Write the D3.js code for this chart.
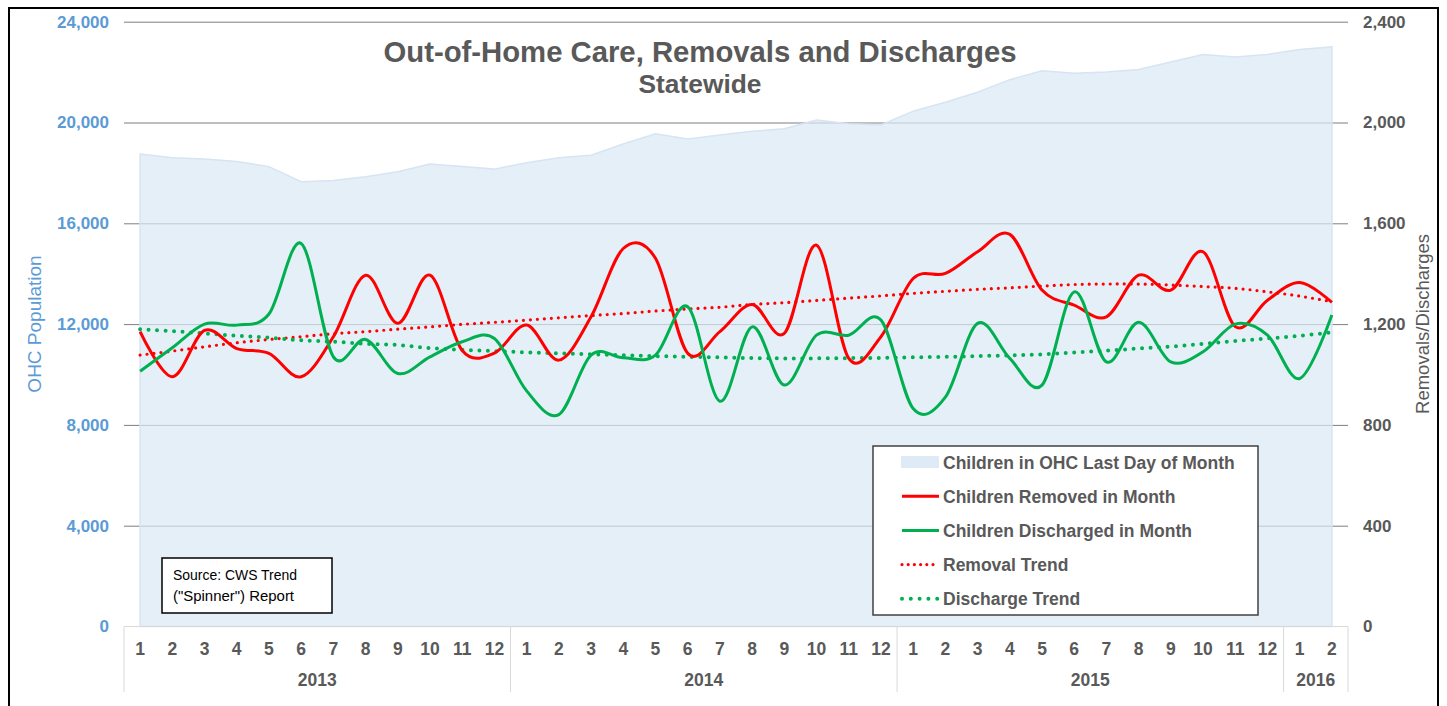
<!DOCTYPE html>
<html lang="en">
<head>
    <meta charset="utf-8">
    <title>Out-of-Home Care, Removals and Discharges</title>
    <script src="https://d3js.org/d3.v7.min.js"></script>
    <style>
        body { margin: 0; background: #fff; }
        text { font-family: "Liberation Sans", Arial, sans-serif; }
    </style>
</head>

<body>
    <script type="text/javascript">
        // months grouped by year
        var monthLabels = ["1","2","3","4","5","6","7","8","9","10","11","12",
                           "1","2","3","4","5","6","7","8","9","10","11","12",
                           "1","2","3","4","5","6","7","8","9","10","11","12",
                           "1","2"];
        var yearLabels = ["2013", "2014", "2015", "2016"];
        var yearCounts = [12, 12, 12, 2];

        // children in OHC last day of month (left axis)
        var ohc = [18750, 18600, 18550, 18450, 18250, 17650, 17700, 17850, 18050, 18350, 18250, 18150,
                   18400, 18600, 18700, 19150, 19550, 19350, 19500, 19650, 19750, 20100, 19950, 19900,
                   20450, 20800, 21200, 21700, 22050, 21950, 22000, 22100, 22400, 22700, 22600, 22700,
                   22900, 23000];
        // right axis series
        var removed = [1170, 991, 1175, 1103, 1084, 991, 1150, 1394, 1203, 1394, 1095, 1085,
                       1196, 1057, 1229, 1500, 1461, 1084, 1170, 1278, 1163, 1513, 1064, 1150,
                       1381, 1401, 1487, 1556, 1335, 1275, 1229, 1394, 1335, 1487, 1190, 1295,
                       1365, 1286];
        var discharged = [1013, 1106, 1200, 1196, 1240, 1520, 1070, 1139, 1004, 1070, 1130, 1143,
                          935, 841, 1077, 1066, 1077, 1269, 894, 1189, 958, 1156, 1156, 1216,
                          865, 910, 1203, 1064, 958, 1328, 1050, 1207, 1050, 1090, 1200, 1156,
                          984, 1236];
        var removalTrend = [1077, 1093, 1110, 1126, 1139, 1150, 1162, 1170, 1180, 1189, 1199, 1207,
                            1216, 1225, 1234, 1242, 1252, 1260, 1267, 1278, 1285, 1294, 1303, 1312,
                            1322, 1330, 1338, 1344, 1351, 1357, 1359, 1359, 1355, 1349, 1342, 1328,
                            1311, 1289];
        var dischargeTrend = [1180, 1172, 1163, 1154, 1146, 1136, 1130, 1122, 1117, 1105, 1098, 1093,
                              1088, 1084, 1080, 1076, 1073, 1070, 1068, 1065, 1064, 1064, 1065, 1066,
                              1068, 1070, 1073, 1076, 1080, 1087, 1095, 1103, 1111, 1122, 1133, 1143,
                              1154, 1167];

        var leftTicks = [0, 4000, 8000, 12000, 16000, 20000, 24000];
        var rightTicks = [0, 400, 800, 1200, 1600, 2000, 2400];

        var w = 1447, h = 706;
        var plotL = 124, plotR = 1348, plotT = 21.7, plotB = 626.5;

        var svg = d3.select("body").append("svg")
            .attr("width", w)
            .attr("height", h);

        var idx = d3.range(monthLabels.length);
        var x = d3.scaleBand().domain(idx).range([plotL, plotR]);
        var cx = function(i) { return x(i) + x.bandwidth() / 2; };
        var yL = d3.scaleLinear().domain([0, 24000]).range([plotB, plotT]);
        var yR = d3.scaleLinear().domain([0, 2400]).range([plotB, plotT]);

        // outer frame
        svg.append("rect")
            .attr("x", 9).attr("y", 8).attr("width", 1429).attr("height", 720)
            .attr("fill", "none").attr("stroke", "#000").attr("stroke-width", 2);

        // gridlines
        var grid = svg.append("g")
            .attr("transform", "translate(" + plotL + ",0)")
            .call(d3.axisLeft(yL).tickValues(leftTicks.slice(1)).tickSize(-(plotR - plotL)).tickFormat(""));
        grid.select(".domain").remove();
        grid.selectAll("line").attr("stroke", "#7f7f7f");

        // OHC area
        var area = d3.area()
            .x(function(d, i) { return cx(i); })
            .y0(plotB)
            .y1(function(d) { return yL(d); });
        svg.append("path")
            .datum(ohc)
            .attr("d", area)
            .attr("fill", "rgb(218,232,245)")
            .attr("fill-opacity", 0.7)
            .attr("stroke", "rgb(214,228,243)")
            .attr("stroke-width", 1.5);

        // category axis lines
        svg.append("line")
            .attr("x1", plotL).attr("x2", plotR).attr("y1", plotB).attr("y2", plotB)
            .attr("stroke", "#d9d9d9");
        var bounds = [0];
        yearCounts.forEach(function(n) { bounds.push(bounds[bounds.length - 1] + n); });
        svg.selectAll("line.sep")
            .data(bounds)
            .enter().append("line")
            .attr("class", "sep")
            .attr("x1", function(b) { return plotL + b * x.step(); })
            .attr("x2", function(b) { return plotL + b * x.step(); })
            .attr("y1", plotB).attr("y2", 692)
            .attr("stroke", "#d9d9d9");

        svg.selectAll("text.month")
            .data(monthLabels)
            .enter().append("text")
            .attr("class", "month")
            .attr("x", function(d, i) { return cx(i); })
            .attr("y", 655)
            .attr("text-anchor", "middle")
            .attr("font-size", 17.5).attr("font-weight", "bold").attr("fill", "#595959")
            .text(function(d) { return d; });

        svg.selectAll("text.year")
            .data(yearLabels)
            .enter().append("text")
            .attr("class", "year")
            .attr("x", function(d, i) { return plotL + (bounds[i] + bounds[i + 1]) / 2 * x.step(); })
            .attr("y", 686)
            .attr("text-anchor", "middle")
            .attr("font-size", 17.5).attr("font-weight", "bold").attr("fill", "#595959")
            .text(function(d) { return d; });

        // left axis labels
        var axL = svg.append("g")
            .attr("transform", "translate(" + (plotL - 15) + ",0)")
            .call(d3.axisLeft(yL).tickValues(leftTicks).tickSize(0).tickPadding(0).tickFormat(d3.format(",")));
        axL.select(".domain").remove();
        axL.selectAll("text")
            .attr("font-family", "Liberation Sans, Arial, sans-serif")
            .attr("font-size", 17).attr("font-weight", "bold").attr("fill", "#5b9bd5");

        // right axis labels
        var axR = svg.append("g")
            .attr("transform", "translate(" + (plotR + 15) + ",0)")
            .call(d3.axisRight(yR).tickValues(rightTicks).tickSize(0).tickPadding(0).tickFormat(d3.format(",")));
        axR.select(".domain").remove();
        axR.selectAll("text")
            .attr("font-family", "Liberation Sans, Arial, sans-serif")
            .attr("font-size", 17).attr("font-weight", "bold").attr("fill", "#595959");

        // axis titles
        svg.append("text")
            .attr("transform", "translate(41,324) rotate(-90)")
            .attr("text-anchor", "middle")
            .attr("font-size", 19).attr("fill", "#5b9bd5")
            .text("OHC Population");
        svg.append("text")
            .attr("transform", "translate(1429,324) rotate(-90)")
            .attr("text-anchor", "middle")
            .attr("font-size", 18.5).attr("fill", "#595959")
            .text("Removals/Discharges");

        // lines
        var line = d3.line()
            .x(function(d, i) { return cx(i); })
            .y(function(d) { return yR(d); })
            .curve(d3.curveCatmullRom.alpha(0));

        svg.append("path").datum(removalTrend).attr("d", line)
            .attr("fill", "none").attr("stroke", "#ff0000").attr("stroke-width", 3.2)
            .attr("stroke-linecap", "round").attr("stroke-dasharray", "0 7");
        svg.append("path").datum(dischargeTrend).attr("d", line)
            .attr("fill", "none").attr("stroke", "#00b050").attr("stroke-width", 4)
            .attr("stroke-linecap", "round").attr("stroke-dasharray", "0 8.5");
        svg.append("path").datum(removed).attr("d", line)
            .attr("fill", "none").attr("stroke", "#ff0000").attr("stroke-width", 3);
        svg.append("path").datum(discharged).attr("d", line)
            .attr("fill", "none").attr("stroke", "#00b050").attr("stroke-width", 3);

        // title
        svg.append("text")
            .attr("x", 700).attr("y", 62)
            .attr("text-anchor", "middle")
            .attr("font-size", 30).attr("font-weight", "bold").attr("fill", "#595959")
            .attr("textLength", 633).attr("lengthAdjust", "spacingAndGlyphs")
            .text("Out-of-Home Care, Removals and Discharges");
        svg.append("text")
            .attr("x", 700).attr("y", 93)
            .attr("text-anchor", "middle")
            .attr("font-size", 25).attr("font-weight", "bold").attr("fill", "#595959")
            .attr("textLength", 123).attr("lengthAdjust", "spacingAndGlyphs")
            .text("Statewide");

        // legend
        var legendItems = ["Children in OHC Last Day of Month", "Children Removed in Month",
                           "Children Discharged in Month", "Removal Trend", "Discharge Trend"];
        var lg = svg.append("g");
        lg.append("rect")
            .attr("x", 873).attr("y", 446).attr("width", 385).attr("height", 169)
            .attr("fill", "#fff").attr("stroke", "#404040").attr("stroke-width", 1.5);
        var rows = lg.selectAll("g.row")
            .data(legendItems)
            .enter().append("g")
            .attr("class", "row")
            .attr("transform", function(d, i) { return "translate(901," + (462 + i * 34.2) + ")"; });
        rows.append("text")
            .attr("x", 42).attr("y", 6.5)
            .attr("font-size", 17.5).attr("font-weight", "bold").attr("fill", "#595959")
            .text(function(d) { return d; });
        rows.filter(function(d, i) { return i === 0; }).append("rect")
            .attr("x", 0).attr("y", -6).attr("width", 38).attr("height", 12)
            .attr("fill", "rgb(222,235,247)");
        rows.filter(function(d, i) { return i > 0; }).append("line")
            .attr("x1", 1).attr("x2", 38).attr("y1", 0).attr("y2", 0)
            .attr("stroke", function(d, i) { return i % 2 === 0 ? "#ff0000" : "#00b050"; })
            .attr("stroke-width", function(d, i) { return i < 2 ? 3 : (i === 2 ? 3.2 : 4); })
            .attr("stroke-linecap", function(d, i) { return i < 2 ? "butt" : "round"; })
            .attr("stroke-dasharray", function(d, i) { return i < 2 ? null : (i === 2 ? "0 6.2" : "0 8.8"); });

        // source note
        svg.append("rect")
            .attr("x", 162).attr("y", 558).attr("width", 170).attr("height", 55)
            .attr("fill", "#fff").attr("stroke", "#000").attr("stroke-width", 1.5);
        svg.append("text")
            .attr("x", 173).attr("y", 580)
            .attr("font-family", "Lato, sans-serif").attr("font-size", 15).attr("fill", "#000")
            .attr("textLength", 124).attr("lengthAdjust", "spacingAndGlyphs")
            .text("Source: CWS Trend");
        svg.append("text")
            .attr("x", 173).attr("y", 601)
            .attr("font-family", "Lato, sans-serif").attr("font-size", 15).attr("fill", "#000")
            .attr("textLength", 121).attr("lengthAdjust", "spacingAndGlyphs")
            .text("(\"Spinner\") Report");
    </script>
</body>
</html>
